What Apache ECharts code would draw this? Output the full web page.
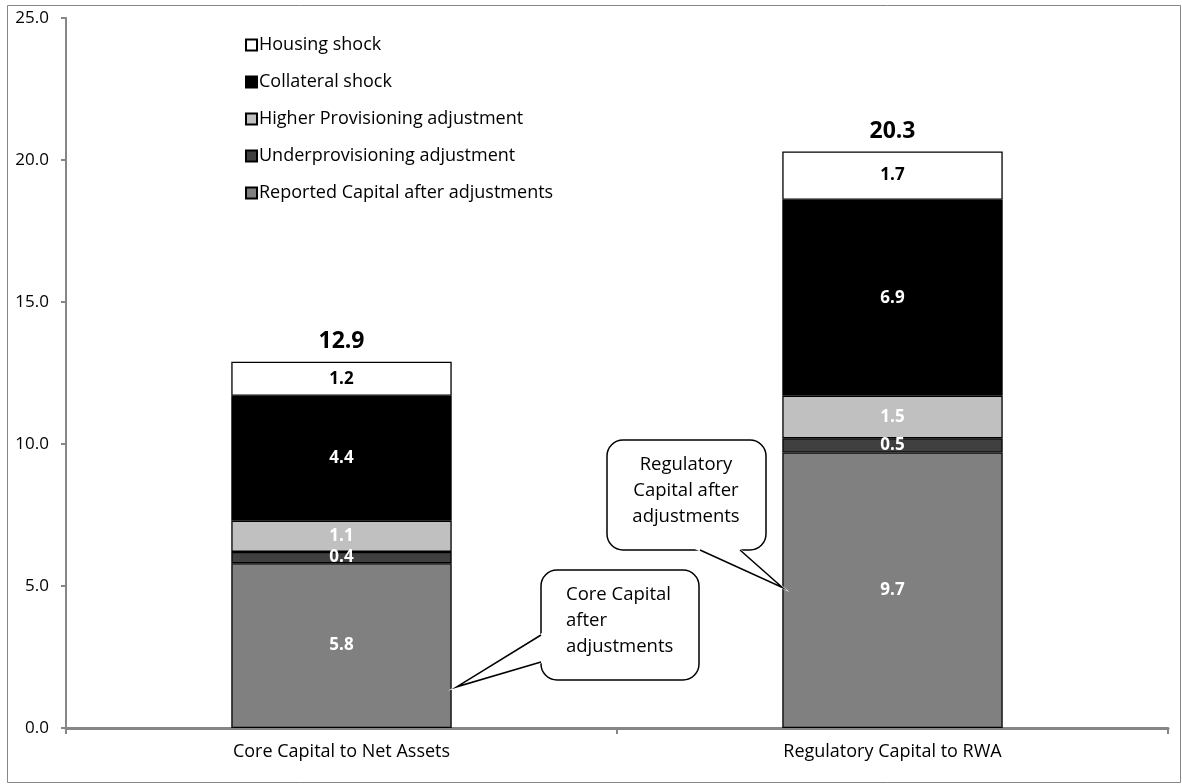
<!DOCTYPE html>
<html>
<head>
<meta charset="utf-8">
<script src="https://cdn.jsdelivr.net/npm/echarts@6/dist/echarts.min.js"></script>
<style>
  html, body { margin: 0; padding: 0; background: #fff; }
  #chart { width: 1182px; height: 784px; }
</style>
</head>
<body>
<div id="chart"></div>
<script>
// Capital ratios (%) broken down by adjustment component
const categories = ['Core Capital to Net Assets', 'Regulatory Capital to RWA'];
const reportedCapital = [5.8, 9.7];
const underprovisioning = [0.4, 0.5];
const higherProvisioning = [1.1, 1.5];
const collateralShock = [4.4, 6.9];
const housingShock = [1.2, 1.7];
const totals = [12.9, 20.3];
const yTicks = [0, 5, 10, 15, 20, 25];

const FONT = '"Open Sans", Lato, sans-serif';

function segment(name, data, fill, labelColor) {
  return {
    name: name,
    type: 'bar',
    stack: 'capital',
    barWidth: '40%',
    data: data,
    itemStyle: { color: fill, borderColor: '#000', borderWidth: 1.3 },
    label: {
      show: true,
      position: 'inside',
      formatter: p => p.value.toFixed(1),
      color: labelColor,
      fontFamily: FONT,
      fontWeight: 'bold',
      fontSize: 17
    },
    emphasis: { disabled: true }
  };
}

const chart = echarts.init(document.getElementById('chart'));

const option = {
  animation: false,
  backgroundColor: '#fff',
  grid: { left: 66, right: 14, top: 18, bottom: 56 },
  legend: {
    orient: 'vertical',
    left: 240,
    top: 29,
    itemGap: 15,
    itemWidth: 11,
    itemHeight: 11,
    icon: 'rect',
    textStyle: { fontFamily: FONT, fontSize: 18, color: '#000', lineHeight: 22, padding: [0, 0, 0, -3] },
    data: ['Housing shock', 'Collateral shock', 'Higher Provisioning adjustment',
           'Underprovisioning adjustment', 'Reported Capital after adjustments']
  },
  xAxis: {
    type: 'category',
    data: categories,
    axisLine: { lineStyle: { color: '#868686', width: 3 } },
    axisTick: { show: true, length: 6, lineStyle: { color: '#868686', width: 2 } },
    axisLabel: { color: '#000', fontFamily: FONT, fontSize: 18, margin: 15 }
  },
  yAxis: {
    type: 'value',
    min: yTicks[0],
    max: yTicks[yTicks.length - 1],
    interval: yTicks[1] - yTicks[0],
    splitLine: { show: false },
    axisLine: { show: true, lineStyle: { color: '#868686', width: 2 } },
    axisTick: { show: true, length: 5, lineStyle: { color: '#868686', width: 2 } },
    axisLabel: { color: '#000', fontFamily: FONT, fontSize: 17, margin: 17,
                 formatter: v => v.toFixed(1) }
  },
  series: [
    segment('Reported Capital after adjustments', reportedCapital, '#808080', '#fff'),
    segment('Underprovisioning adjustment', underprovisioning, '#404040', '#fff'),
    segment('Higher Provisioning adjustment', higherProvisioning, '#c0c0c0', '#fff'),
    segment('Collateral shock', collateralShock, '#000000', '#fff'),
    segment('Housing shock', housingShock, '#ffffff', '#000'),
    {
      // invisible bar carrying the total label above each stack
      name: 'Total',
      type: 'bar',
      barWidth: '40%',
      barGap: '-100%',
      z: 1,
      data: totals,
      itemStyle: { color: 'rgba(0,0,0,0)' },
      label: {
        show: true,
        position: 'top',
        distance: 9,
        formatter: p => p.value.toFixed(1),
        color: '#000',
        fontFamily: FONT,
        fontWeight: 'bold',
        fontSize: 23
      },
      emphasis: { disabled: true },
      silent: true
    }
  ]
};

chart.setOption(option);

// Speech-bubble callouts: rounded box, white patch over the tail base, and the tail outline
function bubble(box, base, tip, text, textPos, align) {
  const [x0, y0, x1, y1] = box;
  return [
    {
      type: 'rect',
      shape: { x: x0, y: y0, width: x1 - x0, height: y1 - y0, r: 16 },
      style: { fill: '#fff', stroke: '#000', lineWidth: 1.5 },
      z: 100
    },
    {
      type: 'polygon',
      shape: { points: [base[0], tip, base[1]] },
      style: { fill: '#fff', stroke: '#fff', lineWidth: 2.5 },
      z: 101
    },
    {
      type: 'polyline',
      shape: { points: [base[0], tip, base[1]] },
      style: { fill: 'none', stroke: '#000', lineWidth: 1.5 },
      z: 102
    },
    {
      type: 'text',
      x: textPos[0], y: textPos[1],
      style: { text: text, align: align, fontFamily: FONT, fontSize: 18.5, fill: '#000', lineHeight: 26 },
      z: 103
    }
  ];
}

const c0 = chart.convertToPixel({ xAxisIndex: 0 }, categories[0]);
const c1 = chart.convertToPixel({ xAxisIndex: 0 }, categories[1]);
const halfBar = (c1 - c0) * 0.2;
const tip1 = [c0 + halfBar + 5, chart.convertToPixel({ yAxisIndex: 0 }, 1.45)];
const tip2 = [c1 - halfBar, chart.convertToPixel({ yAxisIndex: 0 }, 4.95)];

chart.setOption({
  graphic: [
    {
      type: 'rect',
      shape: { x: 7.5, y: 5.5, width: 1173, height: 777 },
      style: { fill: 'none', stroke: '#868686', lineWidth: 1 },
      silent: true, z: -10
    }
  ].concat(
    bubble([541, 570, 699, 680], [[541, 635], [541, 662]], tip1,
           'Core Capital\nafter\nadjustments', [566, 582], 'left'),
    bubble([607, 440, 766, 550], [[700, 550], [740, 550]], tip2,
           'Regulatory\nCapital after\nadjustments', [686, 452], 'center')
  )
});
</script>
</body>
</html>
